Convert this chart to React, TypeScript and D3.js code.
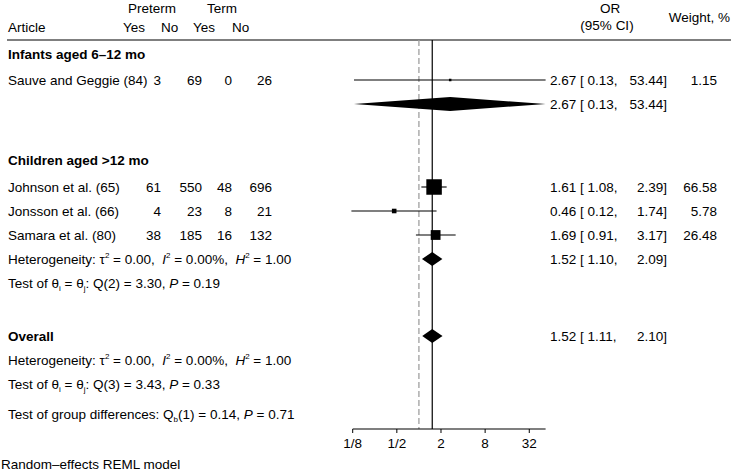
import React from "react";
import { scaleLog, scaleSqrt } from "d3";

// study rows
const studies = ["Sauve and Geggie (84)", "Johnson et al. (65)", "Jonsson et al. (66)", "Samara et al. (80)"];
const pretermYes = [3, 61, 4, 38];
const pretermNo = [69, 550, 23, 185];
const termYes = [0, 48, 8, 16];
const termNo = [26, 696, 21, 132];
const orEst = [2.67, 1.61, 0.46, 1.69];
const orLo = [0.13, 1.08, 0.12, 0.91];
const orHi = [53.44, 2.39, 1.74, 3.17];
const weights = [1.15, 66.58, 5.78, 26.48];

// subgroups
const groups = ["Infants aged 6–12 mo", "Children aged >12 mo"];
const groupEst = [2.67, 1.52];
const groupLo = [0.13, 1.1];
const groupHi = [53.44, 2.09];
const groupStats = [null, { q: "Q(2) = 3.30", p: "0.19" }];

// overall
const overall = { est: 1.52, lo: 1.11, hi: 2.1, q: "Q(3) = 3.43", p: "0.33" };
const groupDiff = { q: "(1) = 0.14", p: "0.71" };

const tickValues = [1 / 8, 1 / 2, 2, 8, 32];
const tickLabels = ["1/8", "1/2", "2", "8", "32"];

const FONT = "'Liberation Sans', Arial, sans-serif";
const FS = 13.5;

const fmt = (v: number) => v.toFixed(2);

const Het = ({ x, y }: { x: number; y: number }) => (
  <text x={x} y={y} xmlSpace="preserve">
    Heterogeneity: τ<tspan dy={-6} fontSize={8}>2</tspan>
    <tspan dy={6}>{" = 0.00,  "}</tspan>
    <tspan fontStyle="italic">I</tspan>
    <tspan dy={-6} fontSize={8}>2</tspan>
    <tspan dy={6}>{" = 0.00%,  "}</tspan>
    <tspan fontStyle="italic">H</tspan>
    <tspan dy={-6} fontSize={8}>2</tspan>
    <tspan dy={6}>{" = 1.00"}</tspan>
  </text>
);

const TestTheta = ({ x, y, q, p }: { x: number; y: number; q: string; p: string }) => (
  <text x={x} y={y}>
    Test of θ<tspan dy={3} fontSize={8}>i</tspan>
    <tspan dy={-3}> = θ</tspan>
    <tspan dy={3} fontSize={8}>j</tspan>
    <tspan dy={-3}>: {q}, </tspan>
    <tspan fontStyle="italic">P</tspan>
    <tspan> = {p}</tspan>
  </text>
);

export default function App() {
  const width = 732;
  const height = 474;

  const x = scaleLog().base(2).domain([0.125, 53.44]).range([352.7, 545.6]);
  const boxSize = scaleSqrt().domain([0, 66.58]).range([0, 15.5]);

  const topLine = 40;
  const axisY = 429;
  const base = 5; // center -> baseline offset

  // vertical layout
  const groupHeadY = [54, 160];
  const studyY = [80, 187, 211, 235];
  const groupSumY = [104, 259];
  const groupTestY = [null, 283];
  const overallY = 336;

  const colRight = [161, 202, 232, 272];
  const cols = [pretermYes, pretermNo, termYes, termNo];

  const diamond = (est: number, lo: number, hi: number, cy: number, h = 7) =>
    `M${x(lo)},${cy} L${x(est)},${cy - h} L${x(hi)},${cy} L${x(est)},${cy + h} Z`;

  const ciText = (est: number, lo: number, hi: number, cy: number, w?: number) => (
    <g>
      <text x={550} y={cy + base}>{`${fmt(est)} [ ${fmt(lo)},`}</text>
      <text x={667} y={cy + base} textAnchor="end">{`${fmt(hi)}]`}</text>
      {w !== undefined && (
        <text x={717} y={cy + base} textAnchor="end">{fmt(w)}</text>
      )}
    </g>
  );

  return (
    <svg
      width={width}
      height={height}
      viewBox={`0 0 ${width} ${height}`}
      style={{ position: "absolute", left: 0, top: 0, background: "white" }}
      fontFamily={FONT}
      fontSize={FS}
      fill="black"
    >
      {/* header */}
      <text x={152} y={8 + base} textAnchor="middle">Preterm</text>
      <text x={222} y={8 + base} textAnchor="middle">Term</text>
      <text x={8} y={27 + base}>Article</text>
      <text x={123} y={27 + base}>Yes</text>
      <text x={161} y={27 + base}>No</text>
      <text x={193} y={27 + base}>Yes</text>
      <text x={232} y={27 + base}>No</text>
      <text x={610} y={8 + base} textAnchor="middle">OR</text>
      <text x={607} y={25 + base} textAnchor="middle">(95% CI)</text>
      <text x={730} y={17 + base} textAnchor="end">Weight, %</text>
      <line x1={7} x2={731} y1={topLine} y2={topLine} stroke="black" strokeWidth={1.2} />

      {/* reference lines */}
      <line x1={x(1)} x2={x(1)} y1={topLine} y2={axisY} stroke="#a0a0a0" strokeWidth={1.3} strokeDasharray="6,3" />
      <line x1={x(overall.est)} x2={x(overall.est)} y1={topLine} y2={axisY} stroke="black" strokeWidth={1.2} />

      {/* groups */}
      {groups.map((g, gi) => (
        <g key={g}>
          <text x={8} y={groupHeadY[gi] + base} fontWeight="bold">{g}</text>
          <path d={diamond(groupEst[gi], groupLo[gi], groupHi[gi], groupSumY[gi])} fill="black" />
          {ciText(groupEst[gi], groupLo[gi], groupHi[gi], groupSumY[gi])}
          {groupStats[gi] && (
            <g>
              <Het x={8} y={groupSumY[gi] + base} />
              <TestTheta x={8} y={(groupTestY[gi] as number) + base} q={groupStats[gi]!.q} p={groupStats[gi]!.p} />
            </g>
          )}
        </g>
      ))}

      {/* studies */}
      {studies.map((s, i) => {
        const cy = studyY[i];
        const sz = Math.max(boxSize(weights[i]), 2.5);
        return (
          <g key={s}>
            <text x={8} y={cy + base}>{s}</text>
            {cols.map((c, ci) => (
              <text key={ci} x={colRight[ci]} y={cy + base} textAnchor="end">{c[i]}</text>
            ))}
            <line x1={x(orLo[i])} x2={x(orHi[i])} y1={cy} y2={cy} stroke="black" strokeWidth={1.1} />
            <rect x={x(orEst[i]) - sz / 2} y={cy - sz / 2} width={sz} height={sz} fill="black" />
            {ciText(orEst[i], orLo[i], orHi[i], cy, weights[i])}
          </g>
        );
      })}

      {/* overall */}
      <text x={8} y={overallY + base} fontWeight="bold">Overall</text>
      <path d={diamond(overall.est, overall.lo, overall.hi, overallY)} fill="black" />
      {ciText(overall.est, overall.lo, overall.hi, overallY)}
      <Het x={8} y={360 + base} />
      <TestTheta x={8} y={384 + base} q={overall.q} p={overall.p} />
      <text x={8} y={414 + base}>
        Test of group differences: Q<tspan dy={3} fontSize={8}>b</tspan>
        <tspan dy={-3}>{groupDiff.q}, </tspan>
        <tspan fontStyle="italic">P</tspan>
        <tspan> = {groupDiff.p}</tspan>
      </text>

      {/* axis */}
      <line x1={x.range()[0]} x2={x.range()[1]} y1={axisY} y2={axisY} stroke="black" strokeWidth={1.1} />
      {tickValues.map((t, i) => (
        <g key={t}>
          <line x1={x(t)} x2={x(t)} y1={axisY} y2={axisY + 4} stroke="black" />
          <text x={x(t)} y={443 + base} textAnchor="middle">{tickLabels[i]}</text>
        </g>
      ))}

      <text x={1} y={464 + base}>Random–effects REML model</text>
    </svg>
  );
}
